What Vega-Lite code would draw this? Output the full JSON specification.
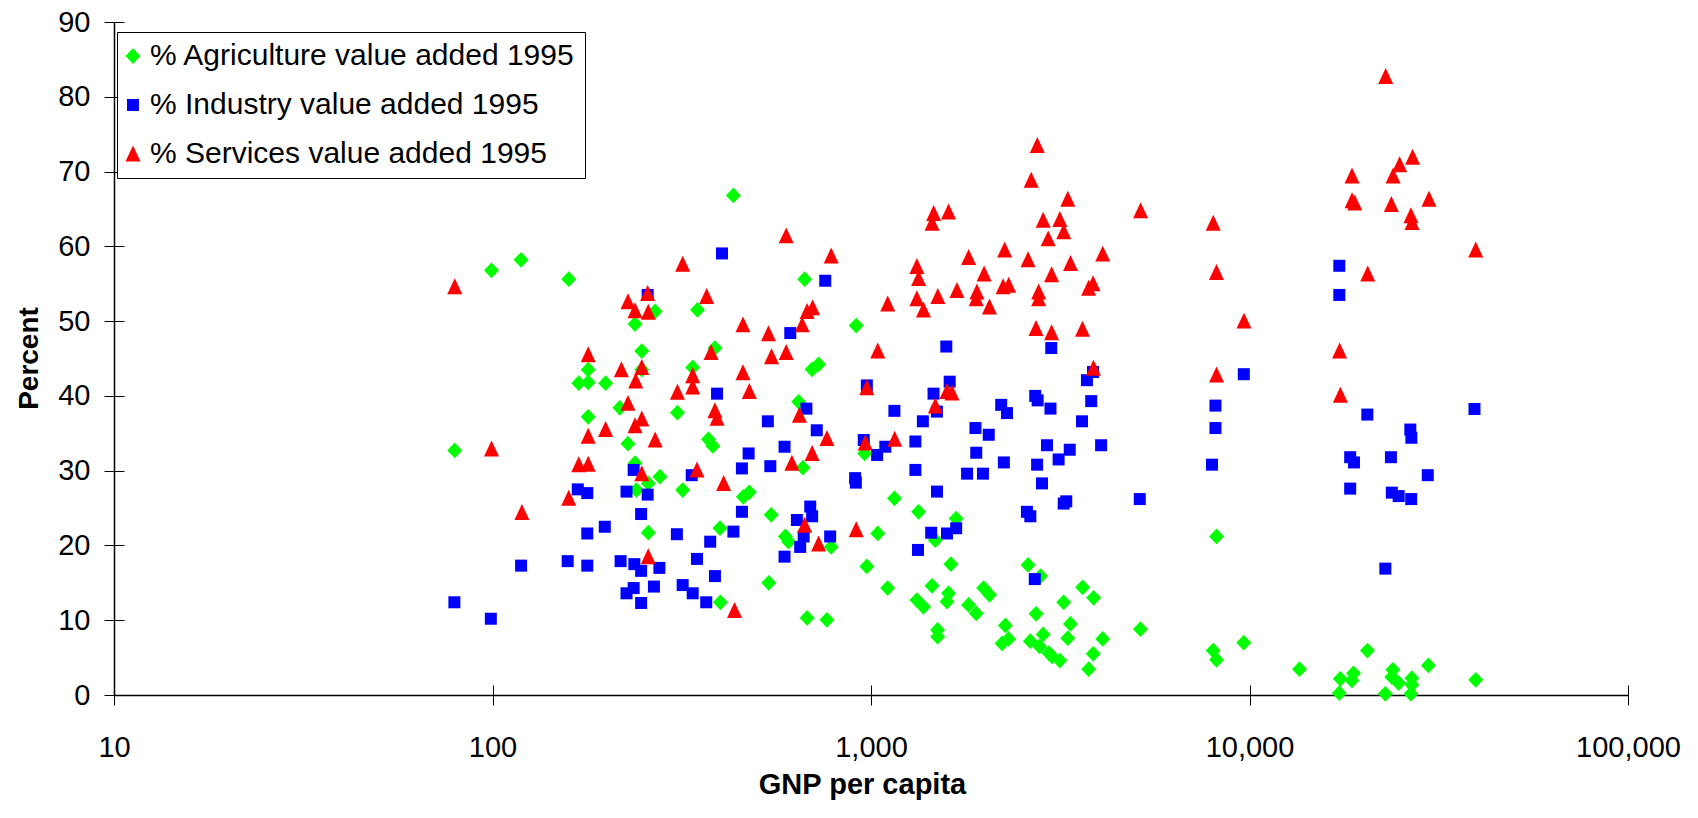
{
"$schema":"https://vega.github.io/schema/vega-lite/v6.json",
"width":1514,"height":673,
"autosize":{"type":"none"},
"padding":{"left":114,"top":22,"right":70,"bottom":123},
"background":"white",
"config":{"view":{"stroke":null},"font":"Liberation Sans",
 "legend":{"orient":"none","legendX":3,"legendY":10,"padding":9,"strokeColor":"black","strokeWidth":1,"fillColor":"white","labelFontSize":30,"labelFont":"Liberation Sans","labelColor":"black","labelLimit":1000,"labelOffset":2,"symbolOffset":-8,"rowPadding":19,"symbolSize":225,"symbolStrokeWidth":0,"titlePadding":0,"cornerRadius":0}},
"data":{"values":[
{"s":"A","g":79.5,"v":32.7},{"s":"A","g":99.4,"v":56.8},{"s":"A","g":119,"v":58.2},{"s":"A","g":159,"v":55.6},{"s":"A","g":169,"v":41.7},{"s":"A","g":179,"v":43.5},{"s":"A","g":179,"v":41.8},{"s":"A","g":179,"v":37.2},{"s":"A","g":199,"v":41.7},{"s":"A","g":217,"v":38.4},{"s":"A","g":228,"v":33.6},{"s":"A","g":238,"v":49.6},{"s":"A","g":248,"v":46.0},{"s":"A","g":248,"v":43.5},{"s":"A","g":238,"v":31.0},{"s":"A","g":269,"v":51.3},{"s":"A","g":277,"v":29.2},{"s":"A","g":240,"v":27.4},{"s":"A","g":258,"v":28.3},{"s":"A","g":258,"v":21.7},{"s":"A","g":308,"v":37.75},{"s":"A","g":318,"v":27.4},{"s":"A","g":338,"v":43.8},{"s":"A","g":348,"v":51.5},{"s":"A","g":372,"v":34.2},{"s":"A","g":382,"v":33.3},{"s":"A","g":387,"v":46.4},{"s":"A","g":399,"v":22.3},{"s":"A","g":400,"v":12.4},{"s":"A","g":433,"v":66.8},{"s":"A","g":460,"v":26.5},{"s":"A","g":477,"v":27.1},{"s":"A","g":537,"v":15.0},{"s":"A","g":545,"v":24.1},{"s":"A","g":594,"v":21.2},{"s":"A","g":606,"v":20.5},{"s":"A","g":644,"v":39.2},{"s":"A","g":661,"v":30.4},{"s":"A","g":668,"v":55.6},{"s":"A","g":678,"v":10.3},{"s":"A","g":699,"v":43.55},{"s":"A","g":727,"v":44.2},{"s":"A","g":765,"v":10.05},{"s":"A","g":785,"v":19.8},{"s":"A","g":914,"v":49.4},{"s":"A","g":962,"v":32.3},{"s":"A","g":975,"v":17.2},{"s":"A","g":1042,"v":21.6},{"s":"A","g":1107,"v":14.3},{"s":"A","g":1154,"v":26.3},{"s":"A","g":1322,"v":12.7},{"s":"A","g":1336,"v":24.5},{"s":"A","g":1376,"v":11.8},{"s":"A","g":1450,"v":14.6},{"s":"A","g":1479,"v":20.7},{"s":"A","g":1500,"v":8.7},{"s":"A","g":1500,"v":7.8},{"s":"A","g":1588,"v":12.5},{"s":"A","g":1603,"v":13.6},{"s":"A","g":1626,"v":17.5},{"s":"A","g":1679,"v":23.6},{"s":"A","g":1811,"v":12.05},{"s":"A","g":1897,"v":10.9},{"s":"A","g":1985,"v":14.3},{"s":"A","g":2057,"v":13.4},{"s":"A","g":2220,"v":6.9},{"s":"A","g":2265,"v":9.3},{"s":"A","g":2310,"v":7.5},{"s":"A","g":2600,"v":17.4},{"s":"A","g":2636,"v":7.2},{"s":"A","g":2730,"v":10.85},{"s":"A","g":2790,"v":6.5},{"s":"A","g":2804,"v":15.9},{"s":"A","g":2850,"v":8.1},{"s":"A","g":2950,"v":5.6},{"s":"A","g":3010,"v":5.15},{"s":"A","g":3155,"v":4.6},{"s":"A","g":3230,"v":12.4},{"s":"A","g":3311,"v":7.6},{"s":"A","g":3365,"v":9.5},{"s":"A","g":3625,"v":14.4},{"s":"A","g":3760,"v":3.46},{"s":"A","g":3865,"v":5.5},{"s":"A","g":3875,"v":13.0},{"s":"A","g":4096,"v":7.5},{"s":"A","g":5150,"v":8.8},{"s":"A","g":8020,"v":5.95},{"s":"A","g":8185,"v":4.7},{"s":"A","g":8185,"v":21.2},{"s":"A","g":9660,"v":7.0},{"s":"A","g":13560,"v":3.45},{"s":"A","g":17270,"v":0.25},{"s":"A","g":17380,"v":2.16},{"s":"A","g":18650,"v":1.94},{"s":"A","g":18830,"v":2.9},{"s":"A","g":20500,"v":5.95},{"s":"A","g":22850,"v":0.16},{"s":"A","g":23770,"v":2.4},{"s":"A","g":23920,"v":3.36},{"s":"A","g":24780,"v":1.6},{"s":"A","g":26700,"v":0.16},{"s":"A","g":26850,"v":2.25},{"s":"A","g":26850,"v":1.36},{"s":"A","g":29700,"v":3.95},{"s":"A","g":39600,"v":2.03},
{"s":"I","g":79.3,"v":12.4},{"s":"I","g":99,"v":10.2},{"s":"I","g":119,"v":17.3},{"s":"I","g":158,"v":17.9},{"s":"I","g":168,"v":27.5},{"s":"I","g":178,"v":27.0},{"s":"I","g":178,"v":21.6},{"s":"I","g":178,"v":17.3},{"s":"I","g":198,"v":22.5},{"s":"I","g":218,"v":17.9},{"s":"I","g":226,"v":27.2},{"s":"I","g":226,"v":13.6},{"s":"I","g":236,"v":30.1},{"s":"I","g":236,"v":14.3},{"s":"I","g":237,"v":17.5},{"s":"I","g":247,"v":24.2},{"s":"I","g":247,"v":16.6},{"s":"I","g":247,"v":12.3},{"s":"I","g":257,"v":53.5},{"s":"I","g":257,"v":26.8},{"s":"I","g":267,"v":14.5},{"s":"I","g":276,"v":17.0},{"s":"I","g":307,"v":21.5},{"s":"I","g":318,"v":14.7},{"s":"I","g":336,"v":29.4},{"s":"I","g":338,"v":13.6},{"s":"I","g":347,"v":18.2},{"s":"I","g":367,"v":12.4},{"s":"I","g":376,"v":20.5},{"s":"I","g":387,"v":15.9},{"s":"I","g":392,"v":40.3},{"s":"I","g":404,"v":59.05},{"s":"I","g":433,"v":21.85},{"s":"I","g":456,"v":30.3},{"s":"I","g":456,"v":24.5},{"s":"I","g":475,"v":32.3},{"s":"I","g":534,"v":36.6},{"s":"I","g":542,"v":30.6},{"s":"I","g":591,"v":33.2},{"s":"I","g":591,"v":18.5},{"s":"I","g":612,"v":48.4},{"s":"I","g":637,"v":23.4},{"s":"I","g":650,"v":19.8},{"s":"I","g":664,"v":21.2},{"s":"I","g":675,"v":38.3},{"s":"I","g":691,"v":25.2},{"s":"I","g":699,"v":23.9},{"s":"I","g":719,"v":35.4},{"s":"I","g":757,"v":55.4},{"s":"I","g":780,"v":21.2},{"s":"I","g":908,"v":29.0},{"s":"I","g":912,"v":28.4},{"s":"I","g":957,"v":34.1},{"s":"I","g":975,"v":41.4},{"s":"I","g":1038,"v":32.1},{"s":"I","g":1091,"v":33.2},{"s":"I","g":1153,"v":38.0},{"s":"I","g":1310,"v":33.9},{"s":"I","g":1310,"v":30.1},{"s":"I","g":1331,"v":19.4},{"s":"I","g":1371,"v":36.6},{"s":"I","g":1442,"v":21.7},{"s":"I","g":1463,"v":40.3},{"s":"I","g":1493,"v":37.9},{"s":"I","g":1494,"v":27.2},{"s":"I","g":1581,"v":46.6},{"s":"I","g":1588,"v":21.6},{"s":"I","g":1614,"v":41.9},{"s":"I","g":1679,"v":22.3},{"s":"I","g":1794,"v":29.6},{"s":"I","g":1888,"v":35.7},{"s":"I","g":1897,"v":32.4},{"s":"I","g":1976,"v":29.6},{"s":"I","g":2047,"v":34.8},{"s":"I","g":2208,"v":38.8},{"s":"I","g":2244,"v":31.1},{"s":"I","g":2287,"v":37.7},{"s":"I","g":2582,"v":24.5},{"s":"I","g":2636,"v":23.9},{"s":"I","g":2708,"v":15.5},{"s":"I","g":2716,"v":40.0},{"s":"I","g":2747,"v":30.8},{"s":"I","g":2756,"v":39.4},{"s":"I","g":2830,"v":28.3},{"s":"I","g":2917,"v":33.4},{"s":"I","g":2980,"v":38.3},{"s":"I","g":2994,"v":46.4},{"s":"I","g":3131,"v":31.5},{"s":"I","g":3230,"v":25.6},{"s":"I","g":3280,"v":25.9},{"s":"I","g":3350,"v":32.8},{"s":"I","g":3610,"v":36.6},{"s":"I","g":3720,"v":42.1},{"s":"I","g":3818,"v":39.3},{"s":"I","g":3860,"v":43.2},{"s":"I","g":4055,"v":33.4},{"s":"I","g":5130,"v":26.2},{"s":"I","g":7960,"v":30.8},{"s":"I","g":8130,"v":38.7},{"s":"I","g":8130,"v":35.7},{"s":"I","g":9660,"v":42.9},{"s":"I","g":17270,"v":57.4},{"s":"I","g":17270,"v":53.5},{"s":"I","g":18450,"v":31.8},{"s":"I","g":18450,"v":27.6},{"s":"I","g":18880,"v":31.1},{"s":"I","g":20480,"v":37.5},{"s":"I","g":22850,"v":16.9},{"s":"I","g":23640,"v":31.8},{"s":"I","g":23770,"v":27.06},{"s":"I","g":24780,"v":26.6},{"s":"I","g":26600,"v":35.5},{"s":"I","g":26740,"v":26.2},{"s":"I","g":26770,"v":34.4},{"s":"I","g":29580,"v":29.4},{"s":"I","g":39300,"v":38.25},
{"s":"S","g":79.5,"v":54.6},{"s":"S","g":99.4,"v":32.9},{"s":"S","g":119.6,"v":24.4},{"s":"S","g":159,"v":26.3},{"s":"S","g":169,"v":30.8},{"s":"S","g":179,"v":45.5},{"s":"S","g":179,"v":34.6},{"s":"S","g":179,"v":30.85},{"s":"S","g":199,"v":35.5},{"s":"S","g":219,"v":43.5},{"s":"S","g":228,"v":52.6},{"s":"S","g":228,"v":39.0},{"s":"S","g":238,"v":51.4},{"s":"S","g":238,"v":36.0},{"s":"S","g":239,"v":42.0},{"s":"S","g":248,"v":43.8},{"s":"S","g":248,"v":36.9},{"s":"S","g":248,"v":29.6},{"s":"S","g":257,"v":53.7},{"s":"S","g":258,"v":51.2},{"s":"S","g":258,"v":18.5},{"s":"S","g":269,"v":34.1},{"s":"S","g":308,"v":40.5},{"s":"S","g":318,"v":57.6},{"s":"S","g":338,"v":42.7},{"s":"S","g":338,"v":41.2},{"s":"S","g":347,"v":30.1},{"s":"S","g":368,"v":53.3},{"s":"S","g":378,"v":45.8},{"s":"S","g":387,"v":38.0},{"s":"S","g":392,"v":37.0},{"s":"S","g":408,"v":28.3},{"s":"S","g":436,"v":11.3},{"s":"S","g":459,"v":49.5},{"s":"S","g":459,"v":43.1},{"s":"S","g":477,"v":40.6},{"s":"S","g":536,"v":48.3},{"s":"S","g":546,"v":45.25},{"s":"S","g":597,"v":61.4},{"s":"S","g":597,"v":45.8},{"s":"S","g":618,"v":31.0},{"s":"S","g":647,"v":37.4},{"s":"S","g":658,"v":49.5},{"s":"S","g":668,"v":22.7},{"s":"S","g":678,"v":51.3},{"s":"S","g":699,"v":32.3},{"s":"S","g":701,"v":51.8},{"s":"S","g":727,"v":20.2},{"s":"S","g":765,"v":34.3},{"s":"S","g":785,"v":58.7},{"s":"S","g":914,"v":22.1},{"s":"S","g":966,"v":33.7},{"s":"S","g":975,"v":41.1},{"s":"S","g":1042,"v":46.0},{"s":"S","g":1107,"v":52.3},{"s":"S","g":1155,"v":34.2},{"s":"S","g":1322,"v":57.3},{"s":"S","g":1322,"v":53.0},{"s":"S","g":1336,"v":55.7},{"s":"S","g":1376,"v":51.5},{"s":"S","g":1450,"v":63.1},{"s":"S","g":1464,"v":64.4},{"s":"S","g":1479,"v":38.65},{"s":"S","g":1502,"v":53.3},{"s":"S","g":1588,"v":40.6},{"s":"S","g":1603,"v":64.6},{"s":"S","g":1637,"v":40.4},{"s":"S","g":1687,"v":54.1},{"s":"S","g":1811,"v":58.5},{"s":"S","g":1897,"v":53.0},{"s":"S","g":1905,"v":53.9},{"s":"S","g":1990,"v":56.3},{"s":"S","g":2056,"v":51.9},{"s":"S","g":2255,"v":59.5},{"s":"S","g":2234,"v":54.6},{"s":"S","g":2311,"v":54.8},{"s":"S","g":2600,"v":58.2},{"s":"S","g":2650,"v":68.85},{"s":"S","g":2729,"v":49.0},{"s":"S","g":2750,"v":73.5},{"s":"S","g":2773,"v":53.9},{"s":"S","g":2773,"v":53.0},{"s":"S","g":2850,"v":63.5},{"s":"S","g":2939,"v":61.0},{"s":"S","g":3000,"v":56.2},{"s":"S","g":3000,"v":48.45},{"s":"S","g":3155,"v":63.6},{"s":"S","g":3230,"v":61.95},{"s":"S","g":3311,"v":66.3},{"s":"S","g":3366,"v":57.7},{"s":"S","g":3620,"v":48.9},{"s":"S","g":3758,"v":54.4},{"s":"S","g":3861,"v":55.0},{"s":"S","g":3870,"v":43.7},{"s":"S","g":4096,"v":58.96},{"s":"S","g":5156,"v":64.75},{"s":"S","g":8020,"v":63.1},{"s":"S","g":8180,"v":56.5},{"s":"S","g":8185,"v":42.8},{"s":"S","g":9670,"v":50.0},{"s":"S","g":17300,"v":46.0},{"s":"S","g":17380,"v":40.1},{"s":"S","g":18660,"v":69.4},{"s":"S","g":18660,"v":66.1},{"s":"S","g":18970,"v":65.8},{"s":"S","g":20530,"v":56.3},{"s":"S","g":22900,"v":82.7},{"s":"S","g":23700,"v":65.6},{"s":"S","g":23950,"v":69.4},{"s":"S","g":24930,"v":70.9},{"s":"S","g":26700,"v":64.1},{"s":"S","g":26880,"v":63.2},{"s":"S","g":26970,"v":71.9},{"s":"S","g":29800,"v":66.3},{"s":"S","g":39600,"v":59.5}
]},
"layer":[
 {"mark":{"type":"point","filled":true,"size":225,"opacity":1,"strokeWidth":0},
  "encoding":{
   "x":{"field":"g","type":"quantitative","scale":{"type":"log","domain":[10,100000],"nice":false},
     "axis":{"orient":"bottom","values":[10,100,1000,10000,100000],"format":",d","grid":false,"domainColor":"black","domainWidth":1.5,"tickColor":"black","tickSize":10,"labelFontSize":29,"labelColor":"black","labelBaseline":"alphabetic","labelPadding":51,"labelFlush":false,"labelOverlap":false,"title":"GNP per capita","titleFontSize":29,"titleFontWeight":"bold","titleColor":"black","titleX":748,"titleY":98,"titleBaseline":"alphabetic","titleAlign":"center"}},
   "y":{"field":"v","type":"quantitative","scale":{"domain":[0,90],"nice":false,"zero":false},
     "axis":{"orient":"left","values":[0,10,20,30,40,50,60,70,80,90],"format":"d","grid":false,"domainColor":"black","domainWidth":1.5,"tickColor":"black","tickSize":10,"labelFontSize":29,"labelColor":"black","labelPadding":14,"labelFlush":false,"labelOverlap":false,"title":"Percent","titleFontSize":28,"titleFontWeight":"bold","titleColor":"black","titleX":-85,"titleY":336,"titleAngle":-90,"titleBaseline":"middle","titleAlign":"center"}},
   "color":{"field":"s","type":"nominal","scale":{"domain":["A","I","S"],"range":["#00FF00","#0000FF","#FF0000"]},
     "legend":{"title":null,"labelExpr":"datum.label == 'A' ? '% Agriculture value added 1995' : datum.label == 'I' ? '% Industry value added 1995' : '% Services value added 1995'"}},
   "shape":{"field":"s","type":"nominal","scale":{"domain":["A","I","S"],"range":["M-1,0L0,-1.05L1,0L0,1.05Z","M-0.8,-0.8L0.8,-0.8L0.8,0.8L-0.8,0.8Z","M0,-1.13L1,1.0L-1,1.0Z"]},
     "legend":{"title":null,"labelExpr":"datum.label == 'A' ? '% Agriculture value added 1995' : datum.label == 'I' ? '% Industry value added 1995' : '% Services value added 1995'"}}
  }},
 {"mark":{"type":"point","opacity":0},
  "encoding":{
   "x":{"field":"g","type":"quantitative","scale":{"type":"log","domain":[10,100000],"nice":false},
     "axis":{"orient":"bottom","values":[10,100,1000,10000,100000],"grid":false,"domain":false,"labels":false,"tickColor":"black","tickSize":-10,"title":null}},
   "y":{"field":"v","type":"quantitative","scale":{"domain":[0,90],"nice":false,"zero":false},
     "axis":{"orient":"left","values":[0,10,20,30,40,50,60,70,80,90],"grid":false,"domain":false,"labels":false,"tickColor":"black","tickSize":-10,"title":null}}
  }}
],
"resolve":{"axis":{"x":"independent","y":"independent"}}
}
